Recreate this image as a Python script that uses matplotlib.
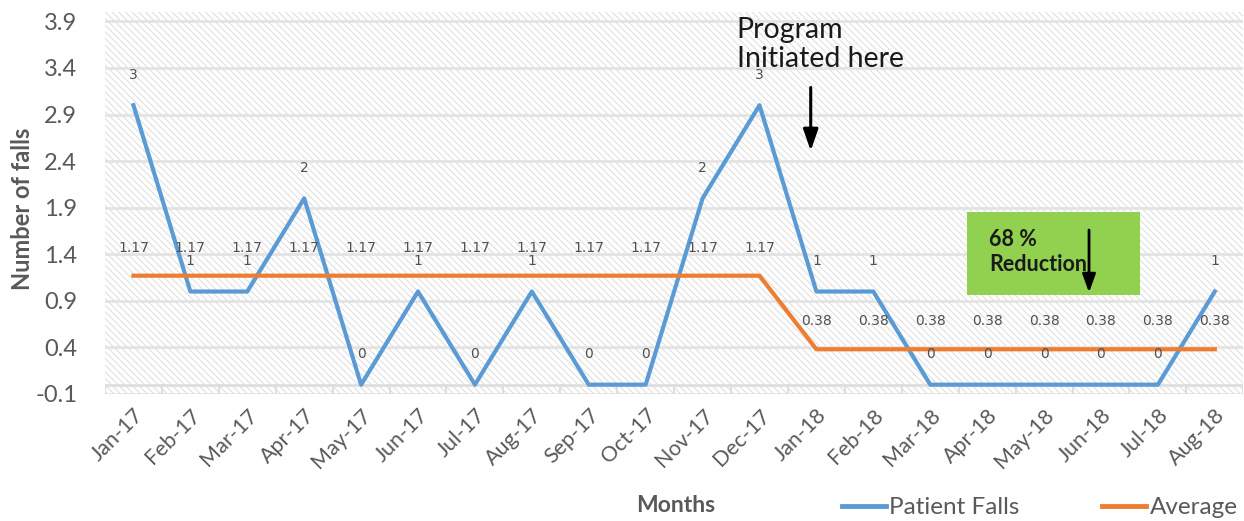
import matplotlib
matplotlib.use("Agg")
import matplotlib.pyplot as plt
from matplotlib.patches import Rectangle
from matplotlib.lines import Line2D

months = ["Jan-17", "Feb-17", "Mar-17", "Apr-17", "May-17", "Jun-17", "Jul-17",
          "Aug-17", "Sep-17", "Oct-17", "Nov-17", "Dec-17", "Jan-18", "Feb-18",
          "Mar-18", "Apr-18", "May-18", "Jun-18", "Jul-18", "Aug-18"]
patient_falls = [3, 1, 1, 2, 0, 1, 0, 1, 0, 0, 2, 3, 1, 1, 0, 0, 0, 0, 0, 1]
average = [1.17] * 12 + [0.38] * 8
yticks = [-0.1, 0.4, 0.9, 1.4, 1.9, 2.4, 2.9, 3.4, 3.9]
ytick_labels = ["-0.1", "0.4", "0.9", "1.4", "1.9", "2.4", "2.9", "3.4", "3.9"]

plt.rcParams['font.family'] = ['Lato', 'DejaVu Sans']
plt.rcParams['hatch.linewidth'] = 0.7

BLUE = "#5B9BD5"
ORANGE = "#ED7D31"
GRAY = "#595959"

fig = plt.figure(figsize=(12.44, 5.21), dpi=100)
ax = fig.add_axes([0.0844, 0.2438, 0.915, 0.733])

x = list(range(len(months)))
ax.set_xlim(-0.5, len(months) - 0.5)
ax.set_ylim(-0.1, 4.0)

# hatched background
bg = Rectangle((0, 0), 1, 1, transform=ax.transAxes, facecolor="white",
               edgecolor="#dcdcdc", hatch="\\\\\\\\\\", linewidth=0, zorder=0)
ax.add_patch(bg)

# gridlines
for yv in yticks:
    ax.axhline(yv, color="#e3e3e3", lw=2, zorder=1)
ax.axhline(0, color="#dedede", lw=2, zorder=1)
for i in range(len(months) + 1):
    ax.plot([i - 0.5, i - 0.5], [-0.1, 0], color="#dedede", lw=1.5, zorder=1)

ax.plot(x, patient_falls, color=BLUE, lw=3, zorder=3, label="Patient Falls")
ax.plot(x, average, color=ORANGE, lw=3, zorder=3, label="Average")

for xi, v in zip(x, patient_falls):
    ax.annotate(f"{v}", (xi, v), xytext=(0, 22), textcoords="offset points",
                ha="center", va="center", fontsize=10, color="#505050",
                family="DejaVu Sans", zorder=4)
for xi, v in zip(x, average):
    ax.annotate(f"{v:.2f}", (xi, v), xytext=(0, 20), textcoords="offset points",
                ha="center", va="center", fontsize=10, color="#505050",
                family="DejaVu Sans", zorder=4)

ax.set_yticks(yticks)
ax.set_yticklabels(ytick_labels, fontsize=17, color=GRAY)
ax.set_xticks(x)
ax.set_xticklabels(months, rotation=45, ha="right", rotation_mode="anchor",
                   fontsize=15.5, color=GRAY)
ax.tick_params(axis="y", length=0, pad=20)
ax.tick_params(axis="x", length=0, pad=8)
for s in ax.spines.values():
    s.set_visible(False)

# Program initiated annotation
ax.text(10.6, 3.95, "Program\nInitiated here", ha="left", va="top",
        fontsize=20.5, color="#1a1a1a", linespacing=1.15, zorder=5)
ax.annotate("", xy=(11.9, 2.48), xytext=(11.9, 3.22),
            arrowprops=dict(arrowstyle="-|>,head_width=0.45,head_length=1.3",
                            color="black", lw=2.2), zorder=5)

# green reduction box
box = Rectangle((14.64, 0.965), 3.04, 0.89, facecolor="#92D050",
                edgecolor="none", zorder=5)
ax.add_patch(box)
ax.text(15.03, 1.56, "68 %", ha="left", va="center", fontsize=15.5,
        fontweight="bold", color="#1a1a1a", zorder=6)
ax.text(15.03, 1.29, "Reduction", ha="left", va="center", fontsize=15.5,
        fontweight="bold", color="#1a1a1a", zorder=6)
ax.annotate("", xy=(16.79, 0.96), xytext=(16.79, 1.69),
            arrowprops=dict(arrowstyle="-|>,head_width=0.4,head_length=1.1",
                            color="black", lw=2), zorder=6)

fig.text(0.018, 0.60, "Number of falls", rotation=90, ha="center", va="center",
         fontsize=17, fontweight="bold", color=GRAY)
fig.text(0.543, 0.03, "Months", ha="center", va="center", fontsize=16.5,
         fontweight="bold", color=GRAY)

handles = [Line2D([], [], color=BLUE, lw=3.5), Line2D([], [], color=ORANGE, lw=3.5)]
fig.legend(handles, ["Patient Falls", "Average"], loc="center right",
           bbox_to_anchor=(0.995, 0.025), ncol=2, frameon=False, fontsize=17.5,
           handlelength=1.8, handletextpad=0.15, columnspacing=3.4,
           borderaxespad=0, borderpad=0, labelcolor=GRAY)

fig.savefig("out.png", dpi=100)
